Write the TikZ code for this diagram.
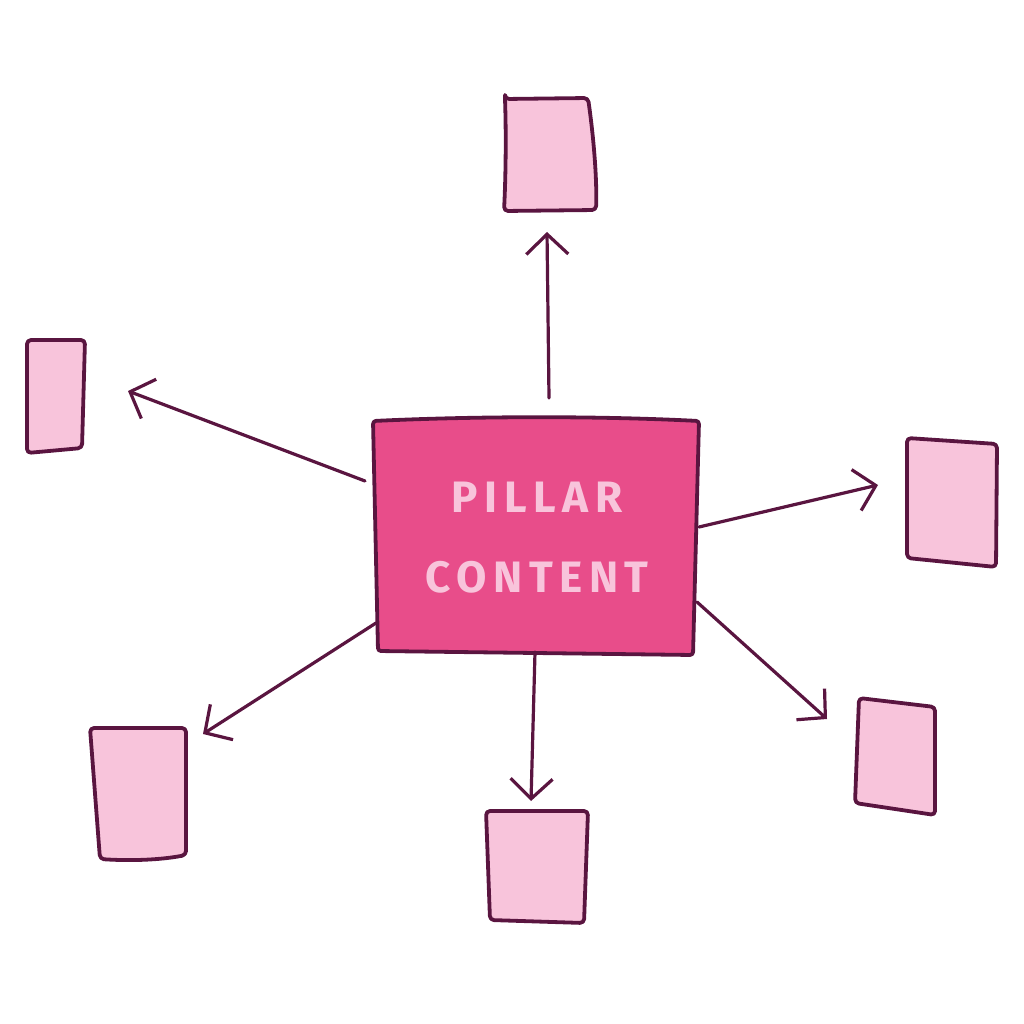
\documentclass[tikz,border=0pt]{standalone}
\usepackage{fontspec}
\setmainfont{Fira Sans}
\usetikzlibrary{arrows.meta}
\definecolor{ink}{HTML}{5A1540}
\definecolor{hot}{HTML}{E84D8A}
\definecolor{soft}{HTML}{F8C4DB}
\tikzset{
  leaf/.style={fill=soft,draw=ink,line width=3.8pt,line join=round,rounded corners=4pt},
  core/.style={fill=hot,draw=ink,line width=3.8pt,line join=round,rounded corners=3pt},
  link/.style={draw=ink,line width=3.2pt,line cap=round,-{Straight Barb[length=20pt,width=42pt,line width=3.2pt]}},
  lbl/.style={text=soft,font=\fontsize{44}{44}\selectfont\bfseries\addfontfeatures{LetterSpace=15}}
}
\begin{document}
\begin{tikzpicture}[x=1pt,y=-1pt]
\useasboundingbox (0,0) rectangle (1024,1024);
% central box
\path[core] (373,421) .. controls (480,416) and (600,416) .. (699,421) -- (693,655) -- (378,651) -- cycle;
\node[lbl] (p1) at (537,497) {PILLAR};
\node[lbl] (p2) at (537,577) {CONTENT};
% leaf boxes
\path[leaf] (505,99) -- (588,98) .. controls (594,140) and (597,180) .. (596,210) -- (504,211) .. controls (506,170) and (506,130) .. cycle;
\path[leaf] (27,340) -- (85,340) -- (82,448) -- (27,453) -- cycle;
\path[leaf] (907,438) -- (997,444) -- (996,567) -- (907,558) -- cycle;
\path[leaf] (859,698) -- (935,707) -- (935,815) -- (855,803) -- cycle;
\path[leaf] (486,811) -- (588,811) -- (584,923) -- (490,920) -- cycle;
\path[leaf] (90,728) -- (186,728) -- (186,855) .. controls (160,860) and (130,861) .. (100,859) -- cycle;
% connector ends
\coordinate (sU) at (549,398); \coordinate (eU) at (547,232);
\coordinate (sL) at (365,481); \coordinate (eL) at (128,391);
\coordinate (sR) at (699,527); \coordinate (eR) at (878,485);
\coordinate (sD) at (535,652); \coordinate (eD) at (531,801);
\coordinate (sDL) at (376,623); \coordinate (eDL) at (203,734);
\coordinate (sDR) at (697,602); \coordinate (eDR) at (827,719);
\draw[link] (sU) -- (eU);
\draw[link] (sL) -- (eL);
\draw[link] (sR) -- (eR);
\draw[link] (sD) -- (eD);
\draw[link] (sDL) -- (eDL);
\draw[link] (sDR) -- (eDR);
\end{tikzpicture}
\end{document}
